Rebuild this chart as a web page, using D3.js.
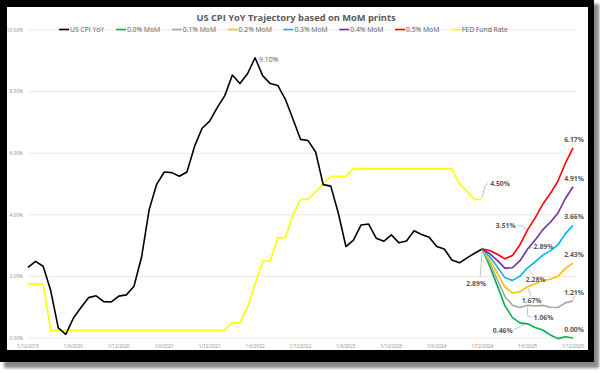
<!DOCTYPE html>
<html>
<head>
<meta charset="utf-8">
<title>US CPI YoY Trajectory</title>
<script src="https://cdn.jsdelivr.net/npm/d3@7"></script>
<style>
  body { margin: 0; background: #fff; }
  svg { display: block; font-family: "Open Sans", "Liberation Sans", sans-serif; }
</style>
</head>
<body>
<svg id="chart" width="600" height="373"></svg>
<script>
// monthly categories, Dec 2019 .. Dec 2025
var months = d3.timeMonth.range(new Date(2019, 11, 1), new Date(2026, 0, 1));
var tickLabels = ["1/12/2019","1/6/2020","1/12/2020","1/6/2021","1/12/2021","1/6/2022","1/12/2022",
                  "1/6/2023","1/12/2023","1/6/2024","1/12/2024","1/6/2025","1/12/2025"];
var yTicks = [0, 2, 4, 6, 8, 10];

// US CPI YoY, Dec 2019 .. Dec 2024
var cpiYoY = [2.29,
  2.49,2.33,1.54,0.33,0.12,0.65,0.99,1.31,1.37,1.18,1.17,1.36,
  1.40,1.68,2.62,4.16,4.99,5.39,5.37,5.25,5.39,6.22,6.81,7.04,
  7.48,7.87,8.54,8.26,8.58,9.10,8.52,8.26,8.20,7.75,7.11,6.45,
  6.41,6.04,4.98,4.93,4.05,2.97,3.18,3.67,3.70,3.24,3.14,3.35,
  3.09,3.15,3.48,3.36,3.27,2.97,2.89,2.53,2.44,2.60,2.75,2.89];

// FED fund rate (upper bound), Dec 2019 .. Dec 2024
var fedRate = [1.75,
  1.75,1.75,0.25,0.25,0.25,0.25,0.25,0.25,0.25,0.25,0.25,0.25,
  0.25,0.25,0.25,0.25,0.25,0.25,0.25,0.25,0.25,0.25,0.25,0.25,
  0.25,0.25,0.50,0.50,1.00,1.75,2.50,2.50,3.25,3.25,4.00,4.50,
  4.50,4.75,5.00,5.25,5.25,5.25,5.50,5.50,5.50,5.50,5.50,5.50,
  5.50,5.50,5.50,5.50,5.50,5.50,5.50,5.50,5.00,4.75,4.50,4.50];

// projected YoY, Dec 2024 .. Dec 2025, for a flat MoM print
var mom00 = [2.89,2.33,1.70,1.05,0.66,0.49,0.46,0.34,0.26,0.10,-0.02,0.04,0.00];
var mom01 = [2.89,2.43,1.90,1.35,1.06,0.99,1.06,1.04,1.06,1.00,0.99,1.14,1.21];
var mom02 = [2.89,2.53,2.11,1.66,1.46,1.50,1.67,1.75,1.87,1.91,2.00,2.26,2.43];
var mom03 = [2.89,2.64,2.31,1.96,1.87,2.01,2.28,2.47,2.69,2.83,3.02,3.39,3.66];
var mom04 = [2.89,2.74,2.52,2.27,2.28,2.51,2.89,3.18,3.51,3.76,4.05,4.53,4.91];
var mom05 = [2.89,2.84,2.72,2.57,2.68,3.03,3.51,3.90,4.34,4.69,5.09,5.68,6.17];

var seriesNames = ["US CPI YoY","0.0% MoM","0.1% MoM","0.2% MoM","0.3% MoM","0.4% MoM","0.5% MoM","FED Fund Rate"];
var seriesData  = [cpiYoY, mom00, mom01, mom02, mom03, mom04, mom05, fedRate];
var seriesStart = [0, 60, 60, 60, 60, 60, 60, 0];
var colors = ["#000000","#00b050","#a6a6a6","#ffc000","#00b0f0","#7030a0","#ff0000","#ffff00"];

var svg = d3.select("#chart");

// frame with shadow
var defs = svg.append("defs");
defs.append("filter").attr("id", "blur")
  .append("feGaussianBlur").attr("stdDeviation", 1.5);
svg.append("rect").attr("x", 4).attr("y", 4).attr("width", 595).attr("height", 364)
  .attr("fill", "#8a8a8a").attr("filter", "url(#blur)");
svg.append("rect").attr("x", 0).attr("y", 0).attr("width", 594).attr("height", 362).attr("fill", "#000");
svg.append("rect").attr("x", 7).attr("y", 7).attr("width", 581).attr("height", 343).attr("fill", "#fff");

var x = d3.scaleLinear().domain([0, months.length - 1]).range([28, 573]);
var y = d3.scaleLinear().domain([0, 10]).range([338, 30]);

// gridlines
svg.append("g").selectAll("line").data(yTicks).enter().append("line")
  .attr("x1", 28).attr("x2", 576)
  .attr("y1", d => y(d)).attr("y2", d => y(d))
  .attr("stroke", "#e3e3e3").attr("stroke-width", 0.8);

// y axis labels
svg.append("g").selectAll("text").data(yTicks).enter().append("text")
  .attr("x", 23).attr("y", d => y(d) + 1.7)
  .attr("text-anchor", "end").attr("font-size", 4.8).attr("fill", "#8c8c8c")
  .text(d => d.toFixed(2) + "%");

// x axis labels, one every 6 months
svg.append("g").selectAll("text").data(tickLabels).enter().append("text")
  .attr("x", (d, i) => x(i * 6)).attr("y", 347.5)
  .attr("text-anchor", "middle").attr("font-size", 4.6).attr("fill", "#8c8c8c")
  .text(d => d);

// lines
var line = d3.line().x(d => x(d.i)).y(d => y(d.v));
var drawOrder = [7, 0, 1, 2, 3, 4, 5, 6];
drawOrder.forEach(function (k) {
  var pts = seriesData[k].map((v, j) => ({ i: seriesStart[k] + j, v: v }));
  svg.append("path").datum(pts)
    .attr("d", line).attr("fill", "none")
    .attr("stroke", colors[k]).attr("stroke-width", 1.6)
    .attr("stroke-linejoin", "round");
});

// title
svg.append("text").attr("x", 296).attr("y", 20.5).attr("text-anchor", "middle")
  .attr("font-size", 9.3).attr("font-weight", "bold").attr("fill", "#595959")
  .text("US CPI YoY Trajectory based on MoM prints");

// legend
var legend = svg.append("g").attr("font-size", 6.8).attr("fill", "#595959");
var items = legend.selectAll("g").data(seriesNames).enter().append("g");
items.append("line").attr("x1", 0).attr("x2", 10).attr("y1", 0).attr("y2", 0)
  .attr("stroke", (d, i) => colors[i]).attr("stroke-width", 1.6);
items.append("text").attr("x", 11).attr("y", 2.3).text(d => d);
var widths = [];
items.each(function () { widths.push(this.getBBox().width); });
var total = d3.sum(widths);
var gap = (508 - 59 - total) / (seriesNames.length - 1);
var lx = 59;
items.attr("transform", function (d, i) {
  var t = "translate(" + lx + ",29.5)";
  lx += widths[i] + gap;
  return t;
});

// data labels
var labelColor = "#595959";
function pt(k, j) { return [x(seriesStart[k] + j), y(seriesData[k][j])]; }
function leader(points) {
  svg.append("path").attr("d", d3.line()(points))
    .attr("fill", "none").attr("stroke", "#a6a6a6").attr("stroke-width", 0.7);
}
function label(px, py, txt, anchor, bold) {
  svg.append("text").attr("x", px).attr("y", py + 2.3)
    .attr("text-anchor", anchor).attr("font-size", 6.8)
    .attr("font-weight", bold ? "bold" : "normal").attr("fill", labelColor)
    .text(txt);
}

// peak CPI
var peak = d3.maxIndex(cpiYoY);
var pp = pt(0, peak);
label(pp[0] + 4, pp[1] + 1.5, cpiYoY[peak].toFixed(2) + "%", "start", false);

// last CPI and FED print
var pc = pt(0, 60);
leader([[pc[0], pc[1] + 2], [pc[0] - 2, pc[1] + 28]]);
label(pc[0] - 6, pc[1] + 35, cpiYoY[60].toFixed(2) + "%", "middle", true);
var pf = pt(7, 60);
leader([[pf[0], pf[1] - 2], [pf[0] + 3, pf[1] - 14], [pf[0] + 6, pf[1] - 16]]);
label(pf[0] + 8, pf[1] - 16, fedRate[60].toFixed(2) + "%", "start", true);

// projections: mid-year and year-end values
var mid = 6, end = 12;
var midOffsets = {
  1: { lead: [[-2, 0], [-14, 6]], dx: -15, dy: 7, anchor: "end" },
  2: { lead: [[0, 2], [0, 10], [4, 12]], dx: 6, dy: 12, anchor: "start" },
  3: { lead: [[1, 2], [3, 9]], dx: 4, dy: 14.5, anchor: "middle" },
  4: { lead: [[1, 2], [5, 7]], dx: 8, dy: 12, anchor: "middle" },
  5: { lead: [[1, 0], [5, -2]], dx: 6, dy: -2, anchor: "start" },
  6: { lead: [[-1, -1], [-6, -4], [-10, -4]], dx: -12, dy: -4, anchor: "end" }
};
[1, 2, 3, 4, 5, 6].forEach(function (k) {
  var p = pt(k, mid), o = midOffsets[k];
  leader(o.lead.map(d => [p[0] + d[0], p[1] + d[1]]));
  label(p[0] + o.dx, p[1] + o.dy, seriesData[k][mid].toFixed(2) + "%", o.anchor, true);
  var e = pt(k, end);
  if (k === 2) leader([[e[0], e[1] - 1], [e[0] + 2, e[1] - 5]]);
  label(e[0] + 1, e[1] - 8.5, seriesData[k][end].toFixed(2) + "%", "middle", true);
});
</script>
</body>
</html>
